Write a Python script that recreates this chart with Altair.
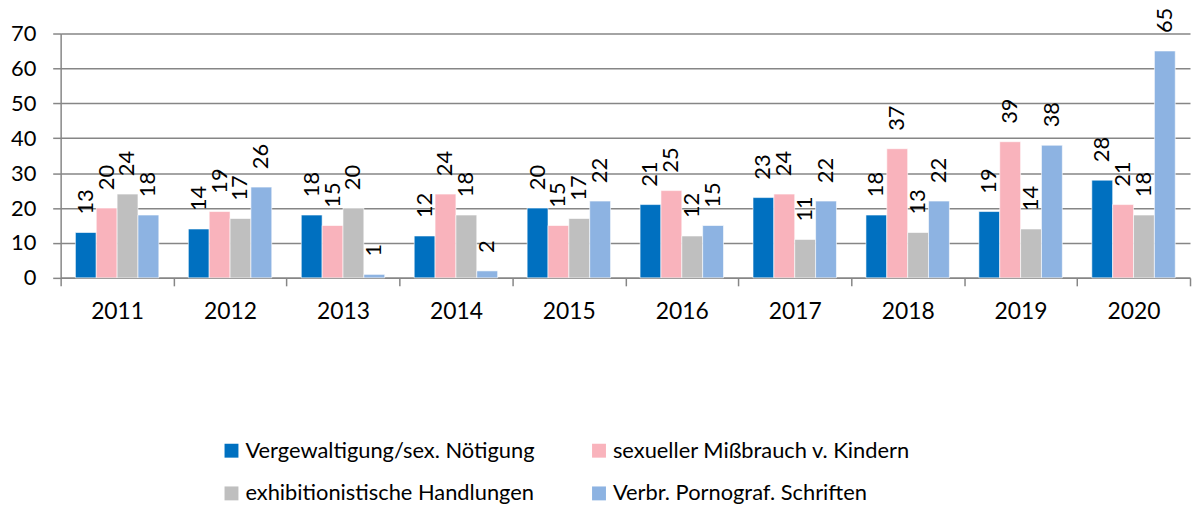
import altair as alt
import pandas as pd

years = ["2011", "2012", "2013", "2014", "2015", "2016", "2017", "2018", "2019", "2020"]
series = [
    "Vergewaltigung/sex. Nötigung",
    "sexueller Mißbrauch v. Kindern",
    "exhibitionistische Handlungen",
    "Verbr. Pornograf. Schriften",
]
vergewaltigung = [13, 14, 18, 12, 20, 21, 23, 18, 19, 28]
missbrauch = [20, 19, 15, 24, 15, 25, 24, 37, 39, 21]
exhibition = [24, 17, 20, 18, 17, 12, 11, 13, 14, 18]
porno = [18, 26, 1, 2, 22, 15, 22, 22, 38, 65]
colors = ["#0070C0", "#F9B3BC", "#BFBFBF", "#8DB3E2"]

rows = []
for s, vals in zip(series, [vergewaltigung, missbrauch, exhibition, porno]):
    for y, v in zip(years, vals):
        rows.append({"Jahr": y, "Delikt": s, "Wert": v})
df = pd.DataFrame(rows)

FONT = "Lato"

x = alt.X("Jahr:N", sort=years, title=None,
          scale=alt.Scale(paddingInner=0, paddingOuter=0),
          axis=alt.Axis(labelAngle=0, labelFontSize=23, labelFont=FONT, labelColor="#000000",
                        labelPadding=15, domainColor="#868686", domainWidth=1.5,
                        tickColor="#868686", tickWidth=1.5, tickSize=8, tickBand="extent",
                        grid=False))
xo = alt.XOffset("Delikt:N", sort=series, scale=alt.Scale(paddingInner=0, paddingOuter=0.707))
y = alt.Y("Wert:Q", title=None,
          scale=alt.Scale(domain=[0, 70], nice=False),
          axis=alt.Axis(values=[0, 10, 20, 30, 40, 50, 60, 70], labelFontSize=22, labelFont=FONT,
                        labelColor="#000000", labelPadding=17, tickSize=8, tickColor="#868686",
                        tickWidth=1.5, domainColor="#868686", domainWidth=1.5,
                        gridColor="#868686", gridWidth=1.5))
color = alt.Color("Delikt:N", sort=series, scale=alt.Scale(domain=series, range=colors),
                  legend=alt.Legend(title=None, orient="none", legendX=161, legendY=409,
                                    direction="horizontal",
                                    columns=2, symbolType="square", symbolSize=196,
                                    symbolStrokeWidth=0, labelFontSize=22, labelFont=FONT,
                                    labelColor="#000000", rowPadding=21, columnPadding=53,
                                    labelLimit=500, labelOffset=3))

base = alt.Chart(df).encode(x=x, xOffset=xo, y=y)
bars = base.mark_bar(stroke="#FFFFFF", strokeWidth=0.6).encode(color=color)
labels = base.mark_text(angle=270, align="left", baseline="middle", dx=18,
                        fontSize=22, font=FONT, color="#000000").encode(text="Wert:Q")

chart = (bars + labels).properties(
    width=1137, height=246,
    padding={"left": 53, "top": 24, "right": 2, "bottom": 231},
    autosize=alt.AutoSizeParams(type="none"),
).configure_view(stroke=None)

chart.save("out.html", embed_options={"renderer": "svg", "actions": False})
